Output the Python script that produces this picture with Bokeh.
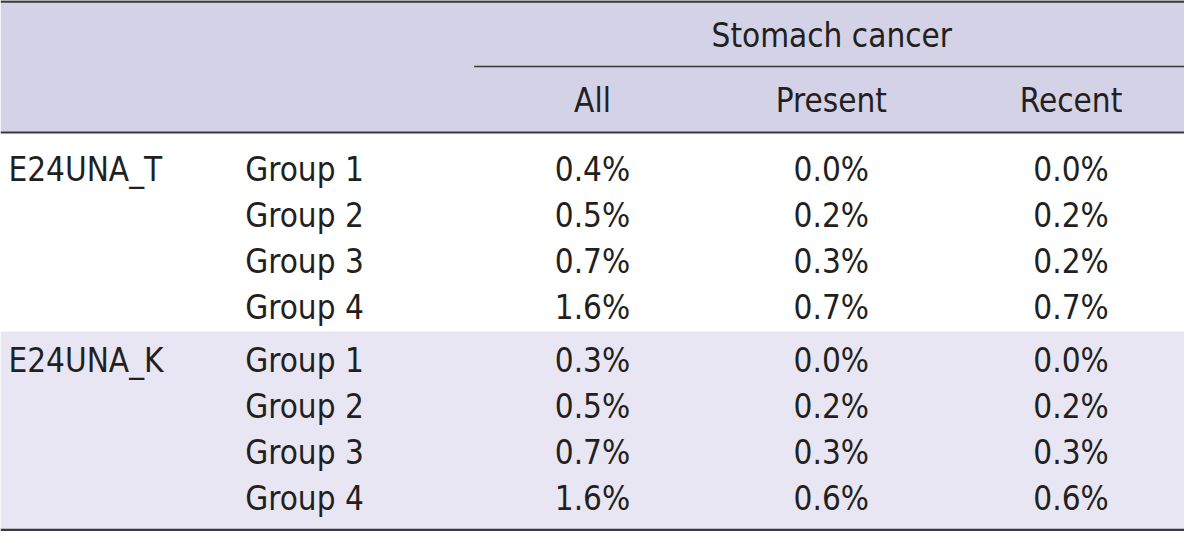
from bokeh.plotting import figure
from bokeh.models import Range1d, ColumnDataSource
from bokeh.core.properties import value
from bokeh.embed import file_html
from bokeh.resources import INLINE

# ---- data ----
methods = ["E24UNA_T", "E24UNA_K"]
groups = ["Group 1", "Group 2", "Group 3", "Group 4"]
col_group = "Stomach cancer"
columns = ["All", "Present", "Recent"]
all_vals = [0.4, 0.5, 0.7, 1.6, 0.3, 0.5, 0.7, 1.6]
present_vals = [0.0, 0.2, 0.3, 0.7, 0.0, 0.2, 0.3, 0.6]
recent_vals = [0.0, 0.2, 0.2, 0.7, 0.0, 0.2, 0.3, 0.6]

# ---- layout constants (reference pixel space) ----
W, H = 1200, 547
FONT = value("'Liberation Sans Narrow', 'DejaVu Sans Condensed', 'Roboto', sans-serif")
FS = "33px"
TXT = "#231f20"
LINE = "#3a3a3a"
HEAD_BG = "#d4d2e6"
BAND_BG = "#e7e6f2"
header_bottom = 136
band_top = 341
col_x = [600, 842, 1085]
method_x = 8
group_x = 248
row0_y = 174
row_step = 47.3
block_step = 197

p = figure(width=1184, height=531, x_range=Range1d(0, W), y_range=Range1d(H, 0),
           output_backend="svg", toolbar_location=None, min_border=0)
p.axis.visible = False
p.grid.visible = False
p.outline_line_color = None
p.background_fill_color = "white"
p.border_fill_color = "white"

# backgrounds
p.quad(left=[0, 0], right=[W, W], top=[0, band_top], bottom=[header_bottom, H - 1],
       fill_color=[HEAD_BG, BAND_BG], line_color=None)

# rules
p.segment(x0=[0, 480, 0, 0], x1=[W, W, W, W], y0=[1, 68, header_bottom, H - 1.5],
          y1=[1, 68, header_bottom, H - 1.5], line_color=LINE, line_width=[2.5, 1.5, 2, 2.5])

# header texts
hx = [sum([col_x[0], col_x[-1]]) / 2] + col_x
hy = [36] + [103] * len(columns)
p.text(x=hx, y=hy, text=[col_group] + columns, text_align="center", text_baseline="middle",
       text_font=FONT, text_font_size=FS, text_color=TXT)

# body
rows_y, mx, my, mt, gx, gt = [], [], [], [], [], []
for b, m in enumerate(methods):
    for i, g in enumerate(groups):
        y = row0_y + i * row_step + b * block_step
        rows_y.append(y)
        gt.append(g)
        if i == 0:
            my.append(y)
            mt.append(m)

p.text(x=[method_x] * len(mt), y=my, text=mt, text_align="left", text_baseline="middle",
       text_font=FONT, text_font_size=FS, text_color=TXT)
p.text(x=[group_x] * len(gt), y=rows_y, text=gt, text_align="left", text_baseline="middle",
       text_font=FONT, text_font_size=FS, text_color=TXT)

for cx, vals in zip(col_x, [all_vals, present_vals, recent_vals]):
    src = ColumnDataSource(dict(x=[cx] * len(vals), y=rows_y, t=[f"{v:.1f}%" for v in vals]))
    p.text(x="x", y="y", text="t", source=src, text_align="center", text_baseline="middle",
           text_font=FONT, text_font_size=FS, text_color=TXT)

open("out.html", "w").write(file_html(p, INLINE))
